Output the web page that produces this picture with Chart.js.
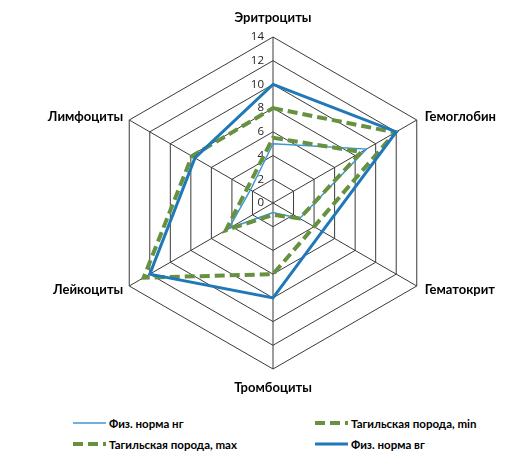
<!DOCTYPE html>
<html lang="ru">
<head>
<meta charset="utf-8">
<script src="https://cdn.jsdelivr.net/npm/chart.js@4"></script>
<style>
  body { margin:0; background:#fff; font-family:Lato, sans-serif; }
  #wrap { position:relative; width:522px; height:472px; }
  #chartBox { position:absolute; left:0; top:0; width:522px; height:410px; }
  .legend-item { position:absolute; height:16px; display:flex; align-items:center; font-weight:bold; font-size:11.5px; color:#000; white-space:nowrap; }
  .legend-item svg { margin-right:3px; }
</style>
</head>
<body>
<div id="wrap">
  <div id="chartBox"><canvas id="radar"></canvas></div>
  <div id="legend"></div>
</div>
<script>
const categories = ['Эритроциты', 'Гемоглобин', 'Гематокрит', 'Тромбоциты', 'Лейкоциты', 'Лимфоциты'];
const seriesNames = ['Физ. норма нг', 'Тагильская порода, min', 'Тагильская порода, max', 'Физ. норма вг'];
const normLow = [5, 9.1, 2.6, 0.8, 4.3, 2.2];
const tagilMin = [5.5, 8.6, 2.6, 1.0, 4.6, 2.5];
const tagilMax = [8, 11.9, 4.0, 6, 12.6, 7.9];
const normHigh = [10, 12, 4.8, 8, 12, 7.6];
const tickLabels = [0, 2, 4, 6, 8, 10, 12, 14];

const blueThin = '#3D97D3';
const blueThick = '#1F78B8';
const green = '#66913F';

// axis names and tick numbers, placed from the radial scale
const axisText = {
  id: 'axisText',
  beforeDatasetsDraw(chart) {
    const r = chart.scales.r;
    const ctx = chart.ctx;
    ctx.save();
    ctx.fillStyle = '#222';
    ctx.font = '11.5px "Open Sans"';
    ctx.textAlign = 'right';
    ctx.textBaseline = 'middle';
    tickLabels.forEach(v => {
      ctx.fillText(String(v), r.xCenter - 9, r.yCenter - r.getDistanceFromCenterForValue(v));
    });
    ctx.restore();
  },
  afterDraw(chart) {
    const r = chart.scales.r;
    const ctx = chart.ctx;
    ctx.save();
    ctx.fillStyle = '#000';
    ctx.font = 'bold 13px Lato';
    ctx.textBaseline = 'middle';
    categories.forEach((name, i) => {
      const p = r.getPointPosition(i, r.drawingArea);
      const dx = p.x - r.xCenter;
      let x = p.x, y = p.y;
      if (Math.abs(dx) < 1) {
        ctx.textAlign = 'center';
        y += p.y < r.yCenter ? -19 : 19;
      } else {
        ctx.textAlign = dx > 0 ? 'left' : 'right';
        x += dx > 0 ? 8 : -6;
        y += p.y < r.yCenter ? -3 : 3.5;
      }
      ctx.fillText(name, x, y);
    });
    ctx.restore();
  }
};

const datasets = [
  { label: seriesNames[0], data: normLow, borderColor: blueThin, borderWidth: 1.5, order: 3 },
  { label: seriesNames[1], data: tagilMin, borderColor: green, borderWidth: 4, borderDash: [10, 5], order: 2 },
  { label: seriesNames[2], data: tagilMax, borderColor: green, borderWidth: 4, borderDash: [10, 5], order: 1 },
  { label: seriesNames[3], data: normHigh, borderColor: blueThick, borderWidth: 3, order: 0 }
];
datasets.forEach(d => { d.fill = false; d.pointRadius = 0; d.tension = 0; d.backgroundColor = 'transparent'; });

const chart = new Chart(document.getElementById('radar'), {
  type: 'radar',
  data: { labels: categories, datasets },
  options: {
    responsive: true,
    maintainAspectRatio: false,
    animation: false,
    layout: { padding: { top: 37, bottom: 41, left: 107, right: 83 } },
    plugins: { legend: { display: false }, tooltip: { enabled: false } },
    scales: {
      r: {
        min: tickLabels[0],
        max: tickLabels[tickLabels.length - 1],
        ticks: { display: false, stepSize: 2 },
        pointLabels: { display: false },
        grid: { color: '#3a3a3a', lineWidth: 1 },
        angleLines: { color: '#3a3a3a', lineWidth: 1 }
      }
    }
  },
  plugins: [axisText]
});

// legend, two columns like the original
const legendPos = [[73, 415], [315, 415], [73, 436], [315, 436]];
const legend = document.getElementById('legend');
chart.data.datasets.forEach((d, i) => {
  const dash = d.borderDash ? `stroke-dasharray="${d.borderDash.join(' ')}"` : '';
  const item = document.createElement('div');
  item.className = 'legend-item';
  item.style.left = legendPos[i][0] + 'px';
  item.style.top = legendPos[i][1] + 'px';
  item.innerHTML = `<svg width="33" height="6"><line x1="0" y1="3" x2="33" y2="3" stroke="${d.borderColor}" stroke-width="${d.borderWidth}" ${dash}/></svg>${d.label}`;
  legend.appendChild(item);
});
</script>
</body>
</html>
